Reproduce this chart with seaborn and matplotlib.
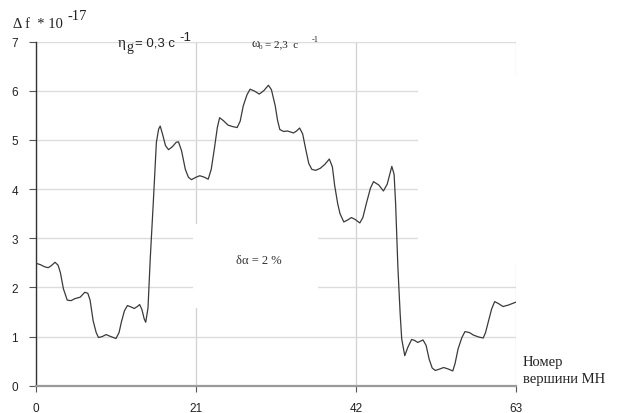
import matplotlib
matplotlib.use("Agg")
import matplotlib.pyplot as plt
from matplotlib.patches import Rectangle
import seaborn as sns
import pandas as pd

# Vertex number along the chain and the frequency shift (units of 1e-17)
x_vertex = [0.0, 0.6, 1.1, 1.6, 2.0, 2.5, 2.9, 3.2, 3.6, 4.1, 4.6, 5.1, 5.8, 6.4, 6.8,
            7.1, 7.5, 7.9, 8.2, 8.7, 9.2, 9.8, 10.5, 10.9, 11.2, 11.6, 12.0, 12.5, 12.9,
            13.3, 13.6, 13.9, 14.2, 14.4, 14.7, 15.0, 15.4, 15.8, 16.1, 16.3, 16.6, 17.0,
            17.4, 17.9, 18.4, 18.7, 19.1, 19.6, 20.0, 20.4, 21.0, 21.5, 22.1, 22.6, 23.0,
            23.4, 23.8, 24.1, 24.6, 25.2, 25.8, 26.4, 26.8, 27.2, 27.7, 28.1, 28.7, 29.3,
            29.9, 30.5, 30.9, 31.4, 31.7, 32.0, 32.5, 33.0, 33.8, 34.2, 34.6, 35.0, 35.4,
            35.8, 36.2, 36.7, 37.3, 37.9, 38.5, 38.9, 39.2, 39.6, 39.9, 40.4, 40.9, 41.4,
            41.9, 42.5, 42.9, 43.4, 43.9, 44.3, 45.0, 45.6, 46.1, 46.7, 47.0, 47.2, 47.5,
            47.8, 48.0, 48.4, 48.8, 49.3, 49.7, 50.1, 50.8, 51.2, 51.6, 52.0, 52.4, 53.0,
            53.5, 54.1, 54.7, 55.0, 55.4, 55.9, 56.3, 56.9, 57.4, 58.1, 58.7, 59.0, 59.4,
            59.8, 60.2, 60.7, 61.3, 62.0, 63.0]
delta_f = [2.49, 2.46, 2.42, 2.40, 2.44, 2.51, 2.45, 2.30, 1.97, 1.74, 1.73, 1.77, 1.80, 1.90, 1.88,
           1.74, 1.32, 1.08, 0.98, 1.00, 1.04, 1.00, 0.96, 1.08, 1.29, 1.52, 1.63, 1.60, 1.57,
           1.61, 1.65, 1.55, 1.36, 1.29, 1.58, 2.60, 3.74, 4.95, 5.22, 5.28, 5.12, 4.88,
           4.80, 4.86, 4.95, 4.96, 4.78, 4.40, 4.24, 4.19, 4.24, 4.27, 4.24, 4.20, 4.40,
           4.81, 5.25, 5.45, 5.39, 5.30, 5.27, 5.25, 5.38, 5.69, 5.92, 6.03, 5.99, 5.93,
           6.00, 6.11, 6.02, 5.69, 5.40, 5.21, 5.17, 5.18, 5.14, 5.18, 5.24, 5.12, 4.81,
           4.52, 4.40, 4.38, 4.42, 4.50, 4.61, 4.45, 4.07, 3.70, 3.50, 3.33, 3.37, 3.42,
           3.38, 3.31, 3.42, 3.73, 4.02, 4.15, 4.08, 3.96, 4.10, 4.46, 4.30, 3.70, 2.40,
           1.45, 0.95, 0.61, 0.78, 0.94, 0.92, 0.88, 0.93, 0.82, 0.54, 0.36, 0.31, 0.34,
           0.37, 0.34, 0.30, 0.45, 0.75, 0.98, 1.10, 1.08, 1.03, 0.99, 0.97, 1.08, 1.32,
           1.56, 1.71, 1.67, 1.61, 1.64, 1.70]

x_ticks = [0, 21, 42, 63]
y_ticks = [0, 1, 2, 3, 4, 5, 6, 7]

W, H = 622, 414
sns.set_theme(style="white")
plt.rcParams["font.family"] = ["Liberation Sans", "DejaVu Sans"]

fig = plt.figure(figsize=(W / 100, H / 100), dpi=100)
fig.patch.set_facecolor("white")
ax = fig.add_axes([36 / W, 1 - 386.7 / H, 480 / W, 344.2 / H])
ax.set_facecolor("white")

df = pd.DataFrame({"vertex": x_vertex, "df": delta_f})
sns.lineplot(data=df, x="vertex", y="df", ax=ax, color="#3a3a3a", linewidth=0.9,
             sort=False, zorder=3)

ax.set_xlim(0, 63)
ax.set_ylim(0, 7)
ax.set_xticks(x_ticks)
ax.set_yticks(y_ticks)
ax.set_xlabel("")
ax.set_ylabel("")

# light grid in both directions
ax.set_axisbelow(True)
ax.grid(True, axis="y", color="#dcdcdc", linewidth=1.0, zorder=0)
ax.grid(True, axis="x", color="#d0d0d0", linewidth=0.9, zorder=0)

# blank label panels covering the grid
ax.add_patch(Rectangle((20.6, 1.58), 16.4, 1.71, facecolor="white", edgecolor="none",
                       zorder=1))
ax.add_patch(Rectangle((50.1, 2.5), 14.0, 3.8, facecolor="white", edgecolor="none",
                       zorder=1, clip_on=False))

for side in ("top", "right"):
    ax.spines[side].set_visible(False)
ax.spines["left"].set_color("#333333")
ax.spines["left"].set_linewidth(1.0)
ax.spines["bottom"].set_color("#9a9a9a")
ax.spines["bottom"].set_linewidth(1.6)

ax.tick_params(axis="y", which="both", left=True, length=5, width=0.8, color="#555555",
               labelsize=8.5, labelcolor="#222222", pad=8)
ax.tick_params(axis="x", which="both", bottom=True, length=4, width=0.8, color="#555555",
               labelsize=8.5, labelcolor="#222222", pad=8)

ax.text(29.2, 2.55, "δα = 2 %", family=["Liberation Serif", "DejaVu Serif"],
        fontsize=9, color="#333333", ha="center", va="center", zorder=4)


def ftxt(px, py, s, **kw):
    fig.text(px / W, 1 - py / H, s, **kw)


serif = ["Liberation Serif", "DejaVu Serif"]
sans = ["Liberation Sans", "DejaVu Sans"]

# vertical axis title
ftxt(13, 28, "Δ f  * 10", family=serif, fontsize=10.5, color="#222222", va="baseline")
ftxt(68, 20, "-17", family=serif, fontsize=10.5, color="#222222", va="baseline")

# damping parameter
ftxt(118, 47, "η", family=serif, fontsize=11, color="#222222", va="baseline")
ftxt(126, 51, "g", family=serif, fontsize=10, color="#222222", va="baseline")
ftxt(135, 47, "= 0,3 c", family=sans, fontsize=9.5, color="#222222", va="baseline")
ftxt(179, 41, "-1", family=sans, fontsize=9.5, color="#222222", va="baseline")

# base frequency
ftxt(252, 47, "ω", family=serif, fontsize=9, color="#222222", va="baseline")
ftxt(259, 49, "0", family=serif, fontsize=5, color="#222222", va="baseline")
ftxt(265, 47, "= 2,3  c", family=serif, fontsize=8, color="#222222", va="baseline")
ftxt(312, 42, "-1", family=serif, fontsize=6, color="#222222", va="baseline")

# horizontal axis title
ftxt(523, 366, "Номер", family=serif, fontsize=10.5, color="#222222", va="baseline")
ftxt(523, 383, "вершини МН", family=serif, fontsize=10.5, color="#222222", va="baseline")

fig.savefig("out.png", dpi=100, facecolor="white")
